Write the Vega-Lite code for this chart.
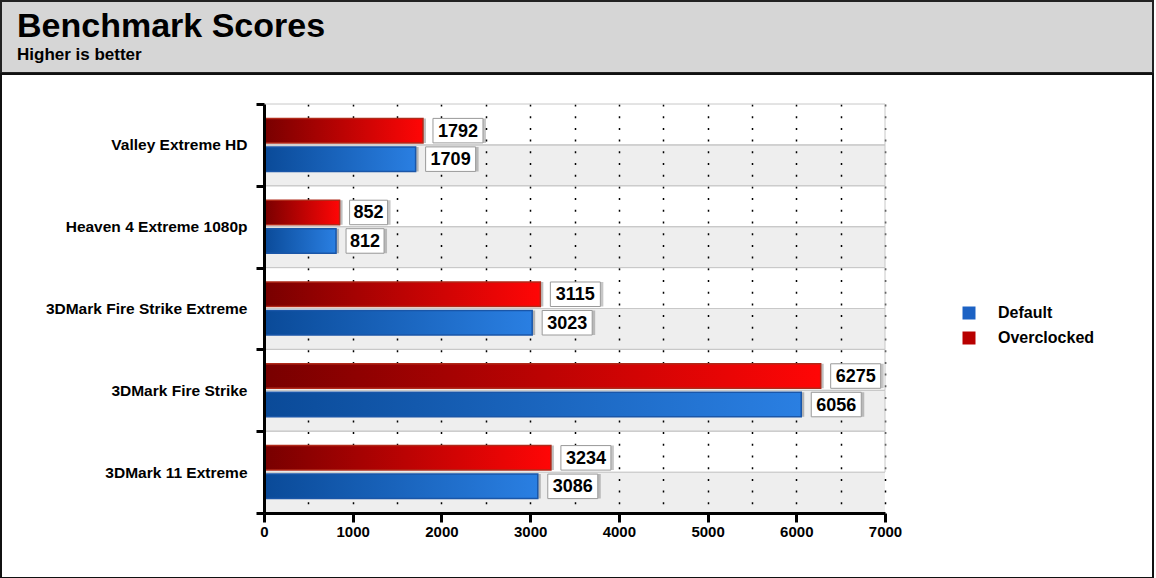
{
  "$schema": "https://vega.github.io/schema/vega-lite/v6.json",
  "background": "white",
  "padding": 0,
  "spacing": -8,
  "config": {"view": {"stroke": null}, "font": "Liberation Sans"},
  "datasets": {
    "scores": [
      {"Benchmark": "Valley Extreme HD", "Series": "Overclocked", "Score": 1792},
      {"Benchmark": "Valley Extreme HD", "Series": "Default", "Score": 1709},
      {"Benchmark": "Heaven 4 Extreme 1080p", "Series": "Overclocked", "Score": 852},
      {"Benchmark": "Heaven 4 Extreme 1080p", "Series": "Default", "Score": 812},
      {"Benchmark": "3DMark Fire Strike Extreme", "Series": "Overclocked", "Score": 3115},
      {"Benchmark": "3DMark Fire Strike Extreme", "Series": "Default", "Score": 3023},
      {"Benchmark": "3DMark Fire Strike", "Series": "Overclocked", "Score": 6275},
      {"Benchmark": "3DMark Fire Strike", "Series": "Default", "Score": 6056},
      {"Benchmark": "3DMark 11 Extreme", "Series": "Overclocked", "Score": 3234},
      {"Benchmark": "3DMark 11 Extreme", "Series": "Default", "Score": 3086}
    ]
  },
  "vconcat": [
    {
      "width": 1152,
      "height": 72,
      "view": {"fill": "#d6d6d6", "stroke": "#222222", "strokeWidth": 2},
      "title": {
        "text": "Benchmark Scores",
        "subtitle": "Higher is better",
        "anchor": "start",
        "frame": "group",
        "orient": "top",
        "offset": -62,
        "dx": 16,
        "font": "Liberation Sans",
        "fontSize": 34,
        "fontWeight": "bold",
        "color": "black",
        "subtitleFont": "Liberation Sans",
        "subtitleFontSize": 17,
        "subtitleFontWeight": "bold",
        "subtitleColor": "black",
        "subtitlePadding": 3
      },
      "data": {"values": [{}]},
      "mark": {"type": "point", "opacity": 0},
      "encoding": {}
    },
    {
      "width": 1152,
      "height": 504,
      "view": {"fill": "white", "stroke": "#111111", "strokeWidth": 2},
      "data": {"name": "scores"},
      "resolve": {"scale": {"yOffset": "independent"}, "axis": {"x": "independent"}},
      "encoding": {
        "y": {
          "field": "Benchmark",
          "type": "nominal",
          "sort": null,
          "scale": {"paddingInner": 0, "paddingOuter": 0, "range": [30, 439]},
          "axis": {
            "title": null,
            "offset": -263,
            "domainColor": "black",
            "domainWidth": 3,
            "tickBand": "extent",
            "tickColor": "black",
            "tickWidth": 3,
            "tickSize": 8,
            "labelFont": "Liberation Sans",
            "labelFontSize": 15.5,
            "labelFontWeight": "bold",
            "labelColor": "black",
            "labelPadding": 9,
            "labelLimit": 300,
            "grid": false,
            "zindex": 2
          }
        }
      },
      "layer": [
        {
          "mark": {"type": "rect", "strokeWidth": 1},
          "encoding": {
            "x": {
              "datum": 0,
              "type": "quantitative",
              "title": null,
              "axis": {
                "orient": "top",
                "values": [500, 1000, 1500, 2000, 2500, 3000, 3500, 4000, 4500, 5000, 5500, 6000, 6500, 7000],
                "grid": true,
                "gridColor": "black",
                "gridDash": [2, 9.7],
                "gridWidth": 1.5,
                "domain": false,
                "ticks": false,
                "labels": false,
                "title": null,
                "zindex": 0
              }
            },
            "x2": {"datum": 7000},
            "yOffset": {"field": "Series", "scale": {"domain": ["Overclocked", "Default"], "paddingInner": 0, "paddingOuter": 0}},
            "fill": {"condition": {"test": "datum.Series === 'Default'", "value": "#000000"}, "value": "#ffffff"},
            "fillOpacity": {"condition": {"test": "datum.Series === 'Default'", "value": 0.065}, "value": 0},
            "stroke": {"condition": {"test": "datum.Series === 'Default' && datum.Benchmark === '3DMark 11 Extreme'", "value": "transparent"}, "value": "#c8c8c8"}
          }
        },
        {
          "mark": {"type": "bar", "color": "#000000", "opacity": 0.25, "xOffset": 3, "x2Offset": 3, "yOffset": 3},
          "encoding": {
            "x": {"field": "Score", "type": "quantitative", "title": null, "axis": null},
            "yOffset": {"field": "Series", "scale": {"domain": ["Overclocked", "Default"], "paddingInner": 0.14, "paddingOuter": 0.505}}
          }
        },
        {
          "mark": {"type": "bar", "strokeWidth": 1.5},
          "encoding": {
            "x": {
              "field": "Score",
              "type": "quantitative",
              "title": null,
              "scale": {"domain": [0, 7000], "nice": false, "range": [263, 884]},
              "axis": {
                "orient": "bottom",
                "values": [0, 1000, 2000, 3000, 4000, 5000, 6000, 7000],
                "format": "d",
                "offset": -65,
                "grid": false,
                "domainColor": "black",
                "domainWidth": 3,
                "tickColor": "black",
                "tickWidth": 3,
                "tickSize": 9,
                "labelFont": "Liberation Sans",
                "labelFontSize": 15,
                "labelFontWeight": "bold",
                "labelColor": "black",
                "labelPadding": 2,
                "labelFlush": false,
                "labelOverlap": false,
                "zindex": 0
              }
            },
            "yOffset": {"field": "Series", "scale": {"domain": ["Overclocked", "Default"], "paddingInner": 0.14, "paddingOuter": 0.505}},
            "color": {
              "field": "Series",
              "type": "nominal",
              "scale": {"domain": ["Default", "Overclocked"], "range": ["#1c62c4", "#b80000"]},
              "legend": {
                "title": null,
                "orient": "none",
                "legendX": 960,
                "legendY": 304,
                "symbolType": "square",
                "symbolSize": 169,
                "symbolStrokeWidth": 0,
                "labelFont": "Liberation Sans",
                "labelFontSize": 16,
                "labelFontWeight": "bold",
                "labelColor": "black",
                "labelOffset": 21,
                "rowPadding": 9,
                "padding": 0
              }
            }
          }
        },
        {
          "transform": [{"filter": "datum.Series === 'Default'"}],
          "mark": {
            "type": "bar",
            "strokeWidth": 1.5,
            "stroke": "#1a56a8",
            "fill": {"gradient": "linear", "x1": 0, "y1": 0, "x2": 1, "y2": 0, "stops": [{"offset": 0, "color": "#0a4a98"}, {"offset": 1, "color": "#2a7fe2"}]}
          },
          "encoding": {
            "x": {"field": "Score", "type": "quantitative", "title": null, "axis": null},
            "yOffset": {"field": "Series", "scale": {"domain": ["Overclocked", "Default"], "paddingInner": 0.14, "paddingOuter": 0.505}}
          }
        },
        {
          "transform": [{"filter": "datum.Series === 'Overclocked'"}],
          "mark": {
            "type": "bar",
            "strokeWidth": 1.5,
            "stroke": "#b02a1a",
            "fill": {"gradient": "linear", "x1": 0, "y1": 0, "x2": 1, "y2": 0, "stops": [{"offset": 0, "color": "#780000"}, {"offset": 1, "color": "#ff0606"}]}
          },
          "encoding": {
            "x": {"field": "Score", "type": "quantitative", "title": null, "axis": null},
            "yOffset": {"field": "Series", "scale": {"domain": ["Overclocked", "Default"], "paddingInner": 0.14, "paddingOuter": 0.505}}
          }
        },
        {
          "mark": {"type": "bar", "color": "#000000", "opacity": 0.22, "xOffset": 13, "x2Offset": {"expr": "datum.Score < 1000 ? 51 : 63"}, "yOffset": 3},
          "encoding": {
            "x": {"field": "Score", "type": "quantitative", "title": null, "axis": null},
            "x2": {"field": "Score"},
            "yOffset": {"field": "Series", "scale": {"domain": ["Overclocked", "Default"], "paddingInner": 0.14, "paddingOuter": 0.505}}
          }
        },
        {
          "mark": {"type": "bar", "fill": "white", "stroke": "#9a9a9a", "strokeWidth": 1, "xOffset": 10, "x2Offset": {"expr": "datum.Score < 1000 ? 48 : 60"}},
          "encoding": {
            "x": {"field": "Score", "type": "quantitative", "title": null, "axis": null},
            "x2": {"field": "Score"},
            "yOffset": {"field": "Series", "scale": {"domain": ["Overclocked", "Default"], "paddingInner": 0.14, "paddingOuter": 0.505}}
          }
        },
        {
          "mark": {"type": "text", "font": "Liberation Sans", "fontSize": 18, "fontWeight": "bold", "color": "black", "align": "center", "baseline": "middle", "dy": 1, "dx": {"expr": "datum.Score < 1000 ? 29 : 35"}},
          "encoding": {
            "x": {"field": "Score", "type": "quantitative", "title": null, "axis": null},
            "yOffset": {"field": "Series", "scale": {"type": "point", "domain": ["Overclocked", "Default"], "padding": 0.935}},
            "text": {"field": "Score", "type": "quantitative", "format": "d"}
          }
        }
      ]
    }
  ]
}
